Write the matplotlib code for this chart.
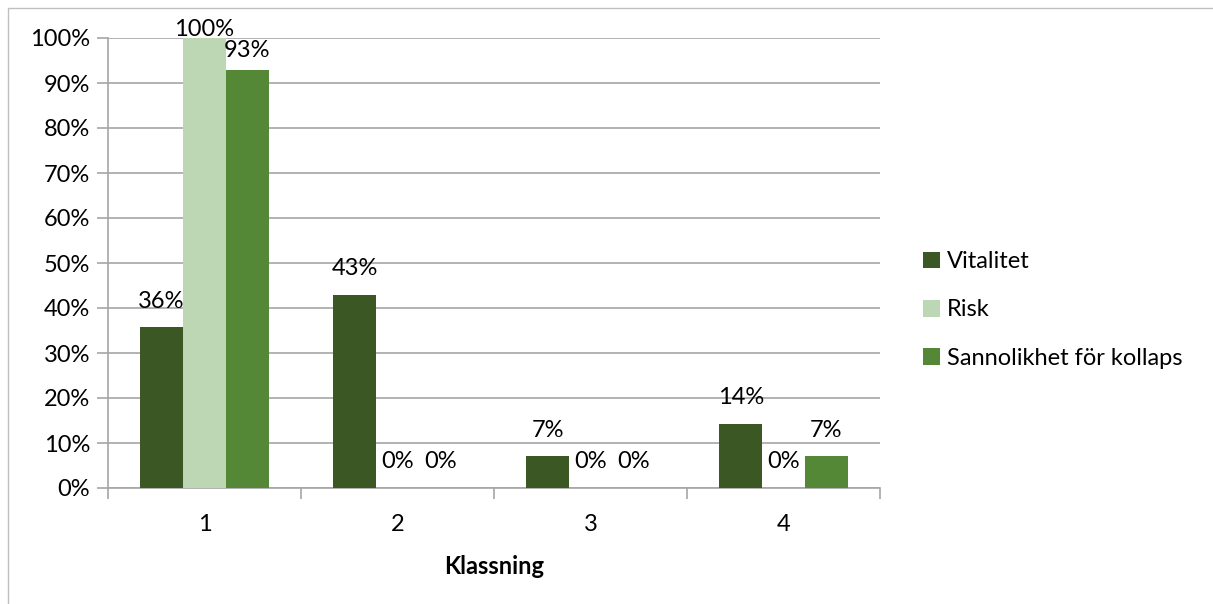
import matplotlib
matplotlib.use("Agg")
import matplotlib.pyplot as plt
from matplotlib.patches import Rectangle
import numpy as np

categories = ["1", "2", "3", "4"]
series_names = ["Vitalitet", "Risk", "Sannolikhet för kollaps"]
vitalitet = [0.357, 0.429, 0.071, 0.143]
risk = [1.00, 0.00, 0.00, 0.00]
kollaps = [0.929, 0.00, 0.00, 0.071]
yticks = [0, 0.1, 0.2, 0.3, 0.4, 0.5, 0.6, 0.7, 0.8, 0.9, 1.0]
colors = ["#3A5724", "#BDD6B4", "#548837"]

plt.rcParams['font.family'] = ['Lato', 'DejaVu Sans']
W, H = 1213, 604
fig = plt.figure(figsize=(W / 100, H / 100), dpi=100)
ax = fig.add_axes([108 / W, 1 - 488 / H, (880 - 108) / W, (488 - 38) / H])

# outer frame
fig.patches.append(Rectangle((8 / W, -0.01), 1.0, 1 - 8 / H + 0.01, transform=fig.transFigure,
                             fill=False, edgecolor="#BFBFBF", linewidth=1.0))

x = np.arange(len(categories))
bw = 0.222
all_series = [vitalitet, risk, kollaps]
fs = 17
for i, (vals, c, name) in enumerate(zip(all_series, colors, series_names)):
    pos = x + (i - 1) * bw
    ax.bar(pos, vals, width=bw, color=c, label=name, zorder=3)
    for p, v in zip(pos, vals):
        dist_px = (1.0 - v) * 450
        off_px = max(8, min(26, dist_px - 12))
        ax.annotate(f"{v*100:.0f}%", (p, v), xytext=(0, off_px * 0.72), textcoords="offset points",
                    ha="center", va="center", fontsize=fs, color="#000000", zorder=4)

ax.set_xlim(-0.5, len(categories) - 0.5)
ax.set_ylim(0, 1.0)
ax.set_yticks(yticks)
ax.set_yticklabels([f"{t*100:.0f}%" for t in yticks], fontsize=fs)
ax.yaxis.grid(True, color="#A6A6A6", linewidth=1.2, zorder=0)
ax.set_axisbelow(True)

ax.set_xticks(np.arange(-0.5, len(categories), 1.0))
ax.set_xticklabels([])
ax.set_xticks(x, minor=True)
ax.set_xticklabels(categories, minor=True, fontsize=fs)
ax.tick_params(axis="x", which="major", length=8, color="#A6A6A6", width=1.2)
ax.tick_params(axis="x", which="minor", length=0, pad=19)
ax.tick_params(axis="y", length=8, color="#A6A6A6", width=1.2, pad=5)

for s in ["top", "right"]:
    ax.spines[s].set_visible(False)
for s in ["left", "bottom"]:
    ax.spines[s].set_color("#A6A6A6")
    ax.spines[s].set_linewidth(1.2)

ax.set_xlabel("Klassning", fontsize=fs, fontweight="bold", labelpad=14)

leg = ax.legend(loc="center left", bbox_to_anchor=(902 / W, 1 - 310 / H), bbox_transform=fig.transFigure,
                frameon=False, fontsize=fs, handlelength=0.7, handleheight=0.7, handletextpad=0.3,
                labelspacing=1.15)

fig.savefig("out.png", dpi=100)
